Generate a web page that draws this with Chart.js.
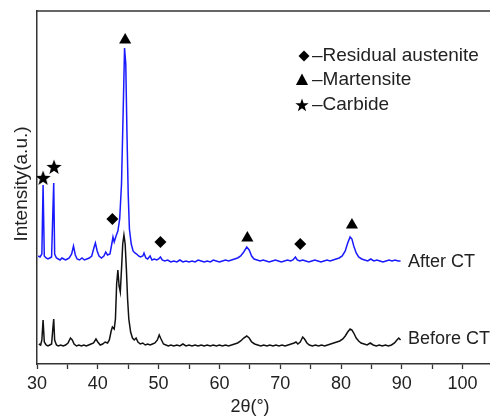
<!DOCTYPE html>
<html>
<head>
<meta charset="utf-8">
<script src="https://cdn.jsdelivr.net/npm/chart.js@4.4.0/dist/chart.umd.min.js"></script>
<style>
html,body{margin:0;padding:0;overflow:hidden;background:#fff}
</style>
</head>
<body>
<canvas id="xrd" width="500" height="419"></canvas>
<script>
// donnees (2theta en degres, intensite en unites arbitraires)
const afterX = [30.2,30.5,30.8,31.0,31.2,31.5,31.8,32.1,32.4,32.6,32.75,32.9,33.2,33.5,33.8,34.1,34.4,34.7,35.0,35.3,35.7,36.0,36.3,36.6,37.0,37.4,37.8,38.2,38.6,39.0,39.4,39.6,39.9,40.2,40.6,41.0,41.3,41.6,42.0,42.3,42.5,42.7,43.0,43.3,43.6,43.9,44.2,44.4,44.6,44.8,45.0,45.2,45.5,45.8,46.1,46.4,46.7,47.0,47.4,47.6,47.9,48.2,48.6,48.9,49.3,49.7,50.0,50.3,50.6,51.0,51.5,52.0,52.5,53.0,53.5,54.0,54.5,55.0,55.5,56.0,56.5,57.0,57.5,58.0,58.5,59.0,59.5,60.0,60.5,61.0,61.5,62.0,62.5,63.0,63.5,64.0,64.5,64.9,65.3,65.7,66.2,66.7,67.2,67.7,68.2,68.7,69.2,69.7,70.2,70.7,71.2,71.7,72.1,72.5,72.8,73.2,73.7,74.2,74.7,75.2,75.7,76.2,76.7,77.2,77.7,78.2,78.7,79.2,79.7,80.2,80.7,81.1,81.5,81.8,82.1,82.5,82.9,83.4,83.9,84.4,84.9,85.4,85.9,86.4,86.9,87.4,87.9,88.4,88.9,89.4,89.8];
const afterY = [108,107,110,179,108,106,105,106,107,150,181,110,106,105,104,106,105,104,105,106,110,118,109,105,104,106,104,105,106,108,117,121,113,108,106,108,112,109,110,120,127,122,128,133,145,180,260,316,300,230,170,135,120,113,111,110,108,107,108,111,106,105,108,104,105,104,105,107,104,103,104,102,103,102,104,102,103,102,103,102,104,103,102,103,102,104,103,102,103,104,103,104,105,106,108,112,117,114,108,105,104,103,104,103,102,103,104,103,102,103,104,103,104,107,104,103,104,103,102,103,104,103,102,103,104,103,104,105,106,108,113,121,127,125,118,111,107,105,104,103,105,103,104,103,102,103,104,103,104,103,103];

const beforeX = [30.3,30.6,30.8,31.0,31.2,31.5,31.8,32.1,32.4,32.6,32.75,32.9,33.2,33.5,33.9,34.3,34.7,35.1,35.5,35.8,36.1,36.5,36.9,37.3,37.7,38.1,38.5,38.9,39.3,39.7,40.0,40.4,40.8,41.2,41.6,41.9,42.2,42.4,42.7,42.9,43.1,43.3,43.5,43.7,43.9,44.1,44.3,44.5,44.7,44.9,45.1,45.4,45.7,46.0,46.3,46.6,47.0,47.4,47.8,48.2,48.6,49.0,49.4,49.8,50.1,50.4,50.8,51.2,51.6,52.0,52.5,53.0,53.5,54.0,54.5,55.0,55.5,56.0,56.5,57.0,57.5,58.0,58.5,59.0,59.5,60.0,60.5,61.0,61.5,62.0,62.5,63.0,63.5,64.0,64.5,64.9,65.3,65.8,66.3,66.8,67.3,67.8,68.3,68.8,69.3,69.8,70.3,70.8,71.3,71.8,72.3,72.6,72.9,73.3,73.7,74.0,74.4,74.8,75.3,75.8,76.3,76.8,77.3,77.8,78.3,78.8,79.3,79.8,80.3,80.7,81.1,81.5,81.8,82.1,82.5,82.9,83.3,83.8,84.3,84.8,85.3,85.8,86.3,86.8,87.3,87.8,88.3,88.8,89.2,89.5,89.8];
const beforeY = [20,19,24,44,22,19,18,19,20,35,45,24,19,18,19,18,19,21,26,24,20,18,19,18,19,18,19,20,21,25,22,19,20,22,21,24,33,37,35,45,80,94,78,72,95,120,129,120,95,65,45,32,26,24,26,22,20,21,19,20,19,20,21,24,29,25,20,19,18,19,18,19,18,20,18,19,18,19,18,19,18,19,18,19,18,19,18,19,18,19,20,21,23,26,28,26,22,20,19,18,19,18,19,18,19,18,19,18,19,20,21,22,20,22,27,25,21,19,18,19,18,19,18,19,20,21,22,23,25,28,32,35,34,31,26,23,21,20,19,21,19,18,19,18,19,18,19,21,24,26,24];

// reperes des phases
const austeniteX = [42.4, 50.3, 73.3];
const austeniteY = [145, 122, 120];
const martensiteX = [44.5, 64.6, 81.8];
const martensiteY = [324, 126, 139];
const carbideX = [31.0, 32.8];
const carbideY = [186, 197];

const xTicks = [30, 40, 50, 60, 70, 80, 90, 100];
const phaseLabels = ['–Residual austenite', '–Martensite', '–Carbide'];
const curveLabels = ['After CT', 'Before CT'];

const FONT = '"Liberation Sans", Arial, sans-serif';
const INK = '#222';

function toPoints(xs, ys){
    return xs.map((x, i) => ({x: x, y: ys[i]}));
}

// etoile pleine pour les carbures
function starPath(ctx, cx, cy, R, r){
    ctx.beginPath();
    for(let k = 0; k < 10; k++){
        const rad = k % 2 === 0 ? R : r;
        const a = -Math.PI / 2 + k * Math.PI / 5;
        const px = cx + rad * Math.cos(a), py = cy + rad * Math.sin(a);
        if(k === 0) ctx.moveTo(px, py); else ctx.lineTo(px, py);
    }
    ctx.closePath();
}
const starImg = document.createElement('canvas');
starImg.width = 16; starImg.height = 16;
const sctx = starImg.getContext('2d');
sctx.fillStyle = '#000';
starPath(sctx, 8, 8.5, 8, 3.3);
sctx.fill();

function triPath(ctx, cx, cy, s){
    ctx.beginPath();
    ctx.moveTo(cx, cy - s * 0.6);
    ctx.lineTo(cx + s * 0.55, cy + s * 0.45);
    ctx.lineTo(cx - s * 0.55, cy + s * 0.45);
    ctx.closePath();
}
function diamondPath(ctx, cx, cy, s){
    ctx.beginPath();
    ctx.moveTo(cx, cy - s);
    ctx.lineTo(cx + s, cy);
    ctx.lineTo(cx, cy + s);
    ctx.lineTo(cx - s, cy);
    ctx.closePath();
}

const textPlugin = {
    id: 'textPlugin',
    afterDraw(chart){
        const ctx = chart.ctx;
        const area = chart.chartArea;
        ctx.save();
        // bord superieur du cadre
        ctx.strokeStyle = '#333';
        ctx.lineWidth = 1.5;
        ctx.beginPath();
        ctx.moveTo(area.left, area.top);
        ctx.lineTo(area.right, area.top);
        ctx.stroke();

        ctx.textBaseline = 'middle';
        // legende des phases
        const ly = [56, 80, 105];
        ctx.fillStyle = '#000';
        diamondPath(ctx, 304, ly[0], 5.5); ctx.fill();
        triPath(ctx, 302, ly[1], 11); ctx.fill();
        starPath(ctx, 302, ly[2] + 0.5, 7, 2.8); ctx.fill();
        ctx.fillStyle = INK;
        ctx.textAlign = 'left';
        ctx.font = '19px ' + FONT;
        phaseLabels.forEach((t, i) => ctx.fillText(t, 312, ly[i]));

        // noms des courbes
        ctx.font = '18px ' + FONT;
        ctx.fillText(curveLabels[0], 408, 262);
        ctx.fillText(curveLabels[1], 408, 339);

        // titre axe x
        ctx.textAlign = 'center';
        ctx.fillText('2θ(°)', 250, 407);

        // titre axe y
        ctx.translate(22, 184);
        ctx.rotate(-Math.PI / 2);
        ctx.font = '19px ' + FONT;
        ctx.fillText('Intensity(a.u.)', 0, 0);
        ctx.restore();
    }
};

const ctx = document.getElementById('xrd').getContext('2d');
const xrdChart = new Chart(ctx, {
    type: 'line',
    data: {
        datasets: [{
            label: 'After CT',
            data: toPoints(afterX, afterY),
            borderColor: '#1a1aff',
            borderWidth: 1.5,
            pointRadius: 0,
            tension: 0
        }, {
            label: 'Before CT',
            data: toPoints(beforeX, beforeY),
            borderColor: '#111',
            borderWidth: 1.5,
            pointRadius: 0,
            tension: 0
        }, {
            label: 'Residual austenite',
            data: toPoints(austeniteX, austeniteY),
            showLine: false,
            pointStyle: 'rectRot',
            pointRadius: 6,
            backgroundColor: '#000',
            borderColor: '#000',
            borderWidth: 0
        }, {
            label: 'Martensite',
            data: toPoints(martensiteX, martensiteY),
            showLine: false,
            pointStyle: 'triangle',
            pointRadius: 7,
            backgroundColor: '#000',
            borderColor: '#000',
            borderWidth: 0
        }, {
            label: 'Carbide',
            data: toPoints(carbideX, carbideY),
            showLine: false,
            pointStyle: starImg,
            backgroundColor: '#000'
        }]
    },
    options: {
        responsive: false,
        animation: false,
        layout: { padding: { top: 11, right: 4, left: 0, bottom: 0 } },
        plugins: {
            legend: { display: false },
            tooltip: { enabled: false }
        },
        scales: {
            x: {
                type: 'linear',
                min: 30,
                max: 105,
                afterFit(scale){ scale.height = 55; },
                ticks: {
                    stepSize: 5,
                    autoSkip: false,
                    maxRotation: 0,
                    padding: 4,
                    color: INK,
                    font: { family: FONT, size: 18 },
                    callback: v => xTicks.includes(v) ? String(v) : ''
                },
                grid: {
                    drawOnChartArea: false,
                    drawTicks: true,
                    tickLength: 5,
                    tickColor: '#333',
                    tickWidth: 1.3
                },
                border: { display: true, color: '#333', width: 1.5 }
            },
            y: {
                min: 0,
                max: 353,
                afterFit(scale){ scale.width = 37; },
                ticks: { display: false },
                grid: { display: false },
                border: { display: true, color: '#333', width: 1.5 }
            }
        }
    },
    plugins: [textPlugin]
});
</script>
</body>
</html>
